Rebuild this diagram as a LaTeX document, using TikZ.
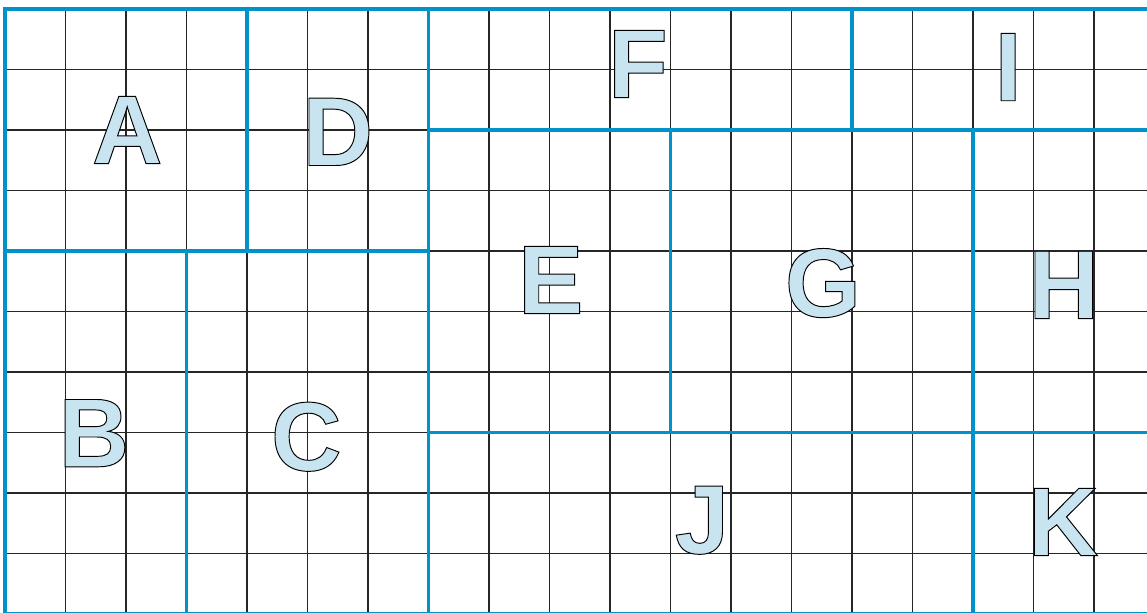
\documentclass[tikz,border=0pt]{standalone}
\usepackage{fontspec}
\setmainfont{Liberation Sans}
\usetikzlibrary{positioning}
\definecolor{regblue}{RGB}{0,146,200}
\definecolor{letfill}{RGB}{200,228,240}
\newcommand{\outlined}[1]{\special{pdf:literal direct 2 Tr 0.45 w 0 0 0 RG}#1\special{pdf:literal direct 0 Tr}}

\begin{document}
\begin{tikzpicture}[
    gridline/.style={draw=black!85, line width=0.6pt},
    region/.style={draw=regblue, line width=1.5pt},
    letter/.style={inner sep=0pt, text=letfill, font=\bfseries\fontsize{46}{46}\selectfont}
]
\useasboundingbox (-0.083,0.149) rectangle (18.876,-9.983);
% grid of squares
\draw[gridline] (0,0) grid (19,-10);
% region borders
\draw[region] (0,0) rectangle (19,-10);
\draw[region] (0,-4) -- (7,-4);
\draw[region] (4,0) -- (4,-4);
\draw[region] (3,-4) -- (3,-10);
\draw[region] (7,0) -- (7,-10);
\draw[region] (7,-2) -- (19,-2);
\draw[region] (14,0) -- (14,-2);
\draw[region] (11,-2) -- (11,-7);
\draw[region] (16,-2) -- (16,-10);
\draw[region] (7,-7) -- (19,-7);
% letters
\node[letter] (lA) at (2.02,-2.00) {\outlined{A}};
\node[letter] (lD) at (5.50,-2.03) {\outlined{D}};
\node[letter] (lF) at (10.46,-0.91) {\outlined{F}};
\node[letter] (lI) at (16.58,-0.96) {\outlined{I}};
\node[letter] (lE) at (9.02,-4.48) {\outlined{E}};
\node[letter] (lG) at (13.52,-4.53) {\outlined{G}};
\node[letter] (lH) at (17.50,-4.56) {\outlined{H}};
\node[letter] (lB) at (1.47,-7.01) {\outlined{B}};
\node[letter] (lC) at (4.98,-7.07) {\outlined{C}};
\node[letter] (lJ) at (11.52,-8.45) {\outlined{J}};
\node[letter] (lK) at (17.49,-8.48) {\outlined{K}};
\end{tikzpicture}
\end{document}
